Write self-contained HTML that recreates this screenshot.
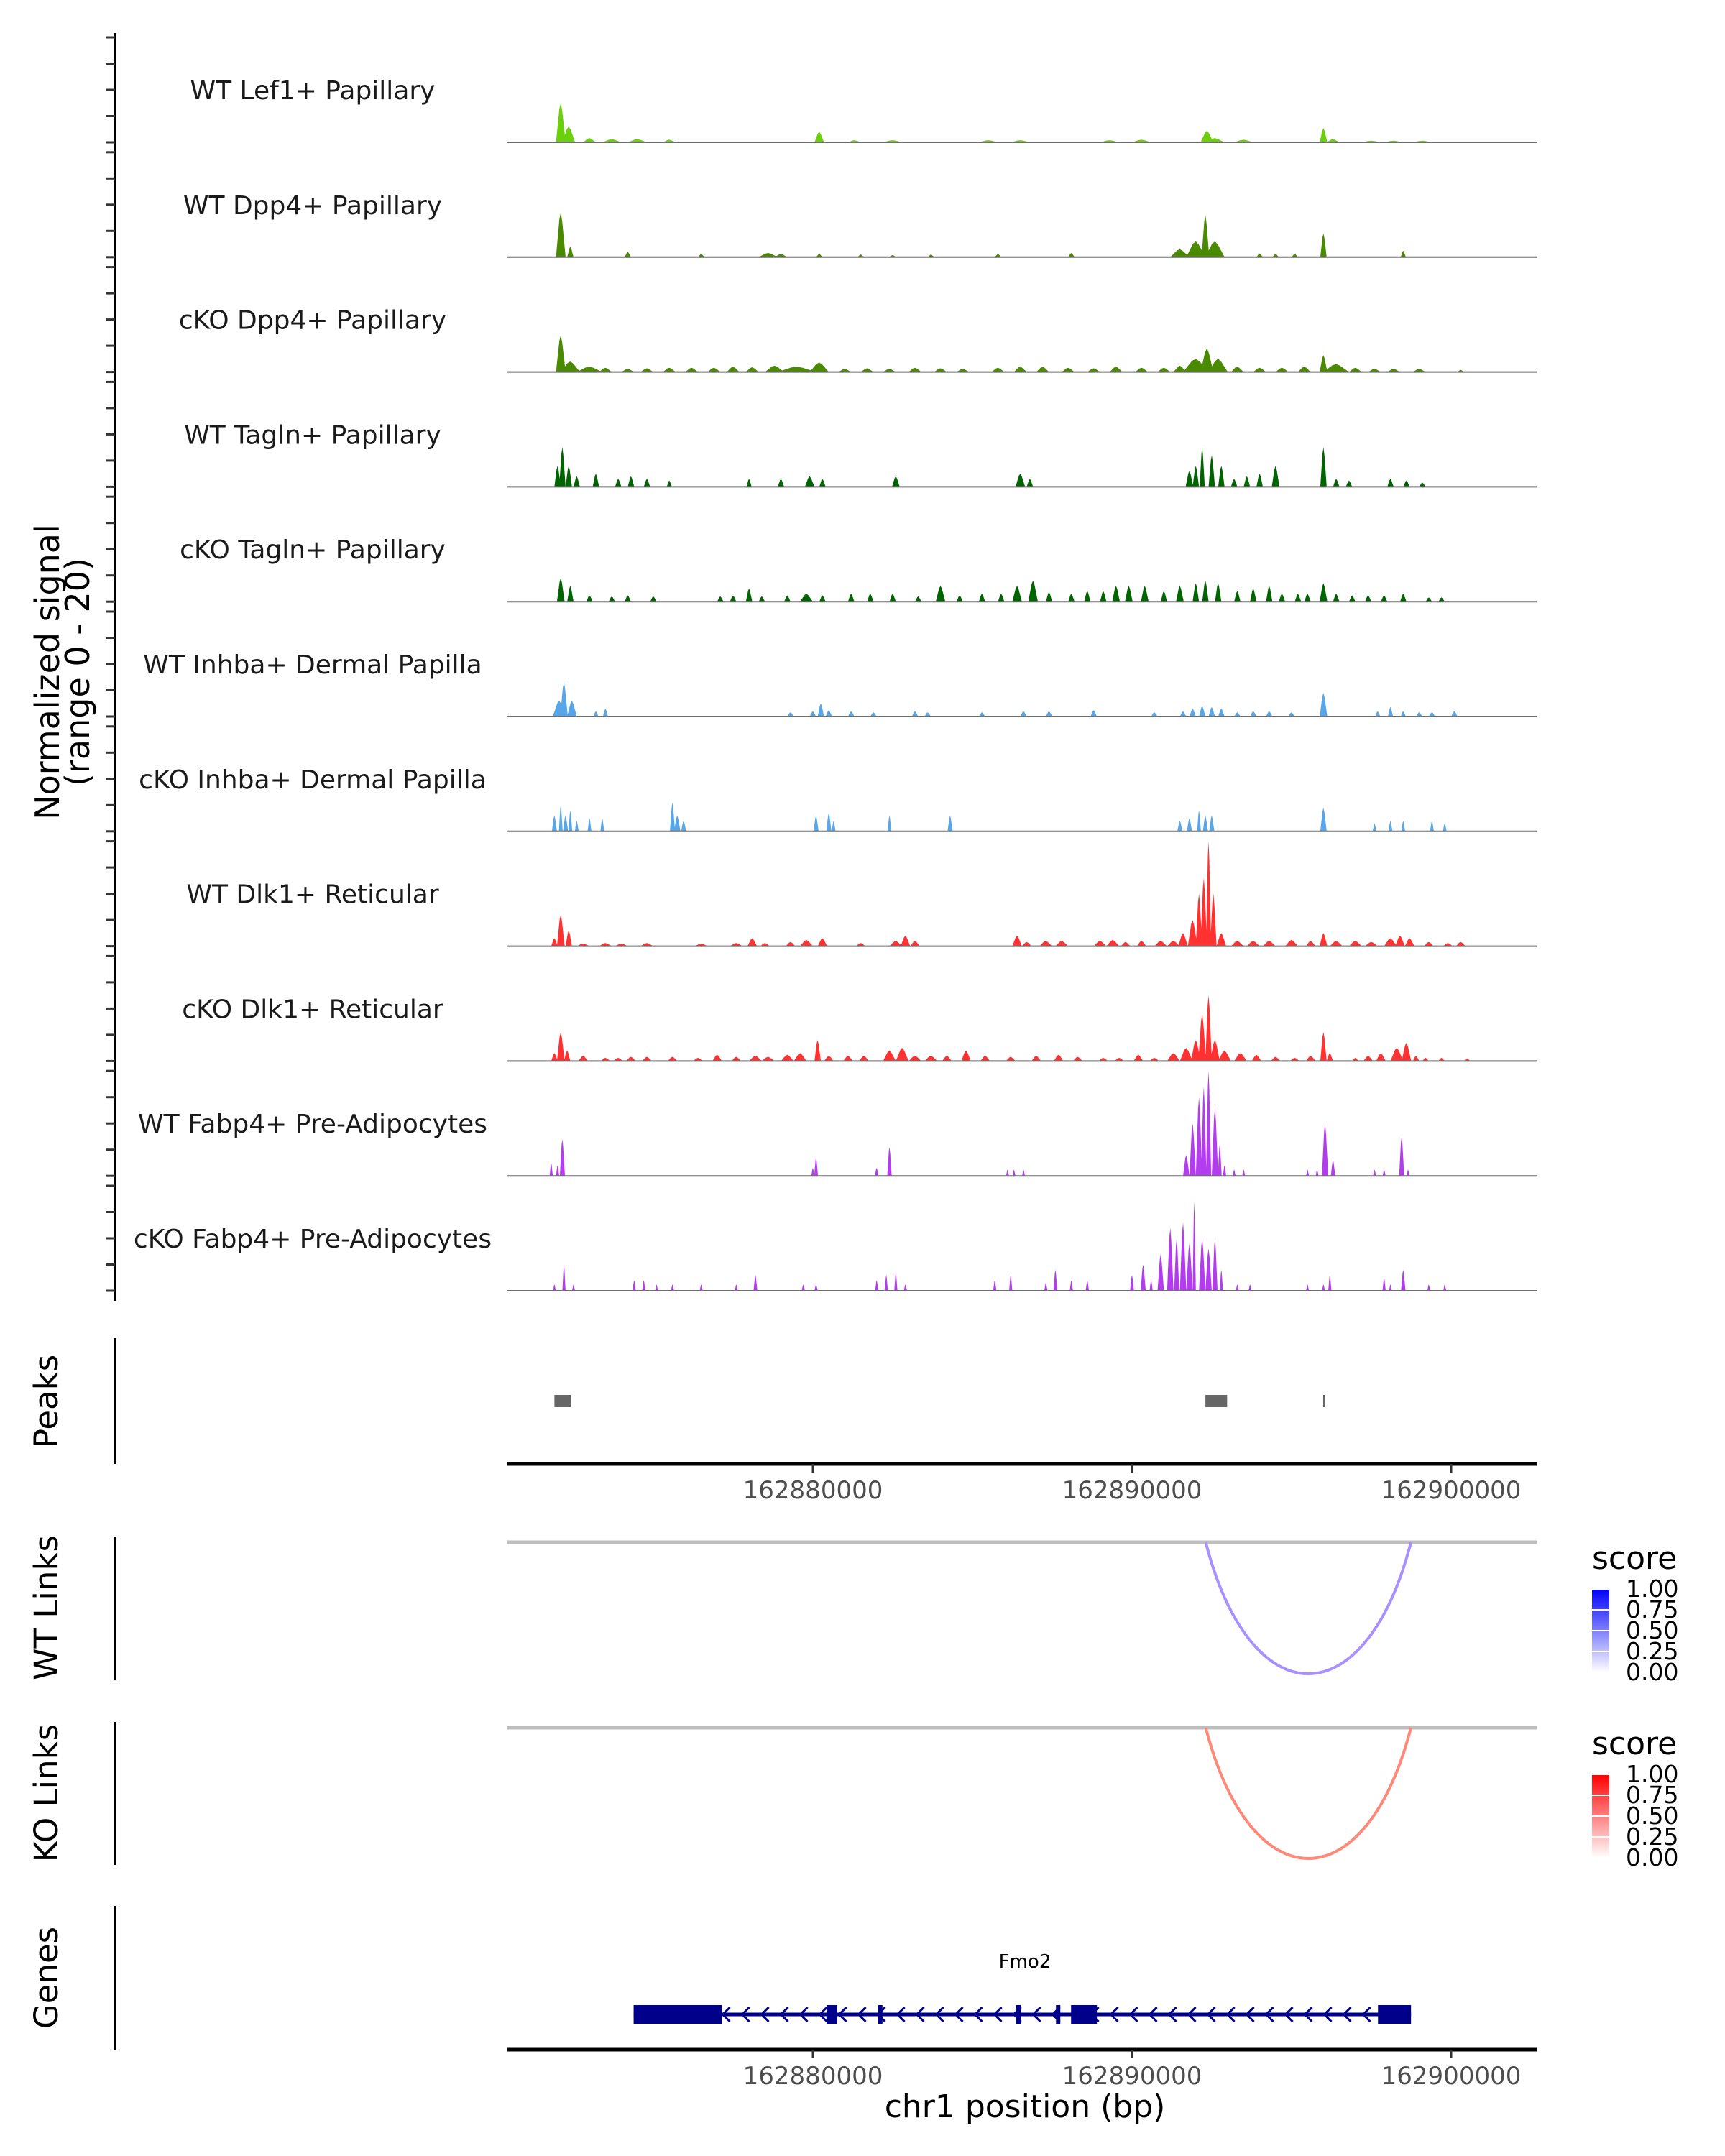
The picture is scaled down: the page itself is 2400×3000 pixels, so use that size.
<!DOCTYPE html>
<html><head><meta charset="utf-8"><style>
html,body{margin:0;padding:0;background:#fff;}
svg{display:block;font-family:"DejaVu Sans","Liberation Sans",sans-serif;}
</style></head><body>
<svg id="chart" width="2400" height="3000" viewBox="0 0 2400 3000" xmlns="http://www.w3.org/2000/svg">
<rect x="0" y="0" width="2400" height="3000" fill="#fff"/>
<defs>
<linearGradient id="gWT" x1="0" y1="1" x2="0" y2="0"><stop offset="0" stop-color="#ffffff"/><stop offset="1" stop-color="#0000ff"/></linearGradient>
<linearGradient id="gKO" x1="0" y1="1" x2="0" y2="0"><stop offset="0" stop-color="#ffffff"/><stop offset="1" stop-color="#ff0000"/></linearGradient>
</defs>
<g id="tracks"></g>
<g id="lower"></g>
</svg>
<script>
// ---------- data ----------
const trackNames = ["WT Lef1+ Papillary","WT Dpp4+ Papillary","cKO Dpp4+ Papillary","WT Tagln+ Papillary","cKO Tagln+ Papillary","WT Inhba+ Dermal Papilla","cKO Inhba+ Dermal Papilla","WT Dlk1+ Reticular","cKO Dlk1+ Reticular","WT Fabp4+ Pre-Adipocytes","cKO Fabp4+ Pre-Adipocytes"];
const trackColors = ["#6ccf0c","#4a8a00","#4a8a00","#006400","#006400","#58a6e8","#58a6e8","#ff3131","#ff3131","#b23cee","#b23cee"];
// peaks: [kb offset from 162870000, value (0-20), half width kb]
const sigLef1 = [[2.1,7.5,0.15],[2.35,3,0.2],[3.0,0.8,0.2],[3.7,0.6,0.3],[4.5,0.6,0.3],[5.5,0.5,0.2],[10.2,2,0.15],[11.3,0.4,0.2],[12.5,0.4,0.3],[15.5,0.4,0.3],[16.5,0.4,0.3],[19.3,0.4,0.3],[20.3,0.5,0.3],[22.35,2.2,0.2],[22.6,0.8,0.3],[23.5,0.5,0.3],[26.0,2.7,0.12],[26.3,0.6,0.2],[27.5,0.3,0.3],[28.2,0.3,0.3],[29.1,0.3,0.3]];
const sigDpp4WT = [[2.1,8.5,0.15],[2.4,2,0.1],[4.2,1,0.1],[6.5,0.6,0.1],[8.6,0.8,0.3],[9.0,0.6,0.2],[10.2,0.6,0.1],[11.5,0.5,0.1],[12.5,0.4,0.1],[13.7,0.5,0.1],[15.8,0.6,0.1],[18.1,0.8,0.1],[21.5,1.5,0.3],[22.0,3,0.3],[22.3,8,0.12],[22.6,3,0.3],[24.0,0.7,0.1],[24.5,0.6,0.1],[25.1,0.6,0.1],[26.0,4.5,0.1],[28.5,1.2,0.08]];
const sigDpp4KO = [[2.1,7,0.15],[2.4,2,0.3],[3,1,0.4],[3.5,0.8,0.2],[4.2,0.6,0.2],[4.8,0.7,0.2],[5.5,0.8,0.2],[6.2,0.8,0.2],[6.9,0.8,0.2],[7.5,1,0.2],[8.1,0.9,0.2],[8.8,1.2,0.3],[9.5,1.0,0.6],[10.2,1.8,0.3],[11.0,0.6,0.2],[11.7,0.7,0.2],[12.4,0.6,0.2],[13.2,0.8,0.2],[14.0,0.7,0.2],[14.7,0.6,0.2],[15.8,0.8,0.2],[16.5,1.0,0.2],[17.2,1.0,0.2],[18.0,0.8,0.2],[18.8,0.7,0.2],[19.5,1.0,0.2],[20.3,0.8,0.2],[21.0,0.8,0.2],[21.5,1.2,0.2],[22.0,2.5,0.4],[22.35,4.5,0.2],[22.7,2.5,0.3],[23.3,1.0,0.2],[24.0,0.8,0.2],[24.7,0.8,0.2],[25.4,1.0,0.2],[26.0,3.2,0.12],[26.4,1.5,0.4],[27.0,0.8,0.2],[27.6,0.6,0.2],[28.2,0.6,0.2],[29.0,0.6,0.2],[30.3,0.4,0.1]];
const sigTaglnWT = [[2.0,4,0.1],[2.15,7.5,0.1],[2.35,4,0.1],[2.6,2,0.1],[3.2,2.5,0.1],[3.9,1.5,0.1],[4.3,2,0.1],[4.8,1.5,0.1],[5.5,1.2,0.08],[8.0,1.5,0.08],[9.0,1.5,0.1],[9.9,2,0.15],[10.3,1.5,0.1],[12.6,2,0.12],[16.5,2.5,0.15],[16.8,1.5,0.1],[21.8,3,0.12],[22.0,4,0.1],[22.2,7.5,0.08],[22.5,6,0.1],[22.8,4,0.1],[23.2,1.5,0.1],[23.6,2,0.1],[24.0,2.5,0.1],[24.5,4,0.12],[26.0,7.5,0.1],[26.4,1.5,0.1],[26.8,1.2,0.1],[28.1,1.5,0.1],[28.6,1.2,0.1],[29.1,0.8,0.1]];
const sigTaglnKO = [[2.1,4.5,0.12],[2.4,3,0.1],[3.0,1.2,0.1],[3.7,1.0,0.1],[4.2,1.2,0.1],[5.0,1,0.1],[7.1,1,0.1],[7.5,1.2,0.1],[8.0,2.5,0.1],[8.4,1,0.1],[9.2,1.2,0.1],[9.8,1.5,0.2],[10.3,1.2,0.1],[11.2,1.5,0.1],[11.8,1.5,0.1],[12.5,1.5,0.1],[13.3,1,0.1],[14.0,3,0.15],[14.6,1.2,0.1],[15.3,1.5,0.1],[15.9,1.5,0.1],[16.4,3,0.15],[16.9,4,0.15],[17.4,1.8,0.1],[18.1,1.5,0.1],[18.6,2,0.1],[19.1,2,0.1],[19.5,3,0.12],[19.9,3,0.12],[20.4,3,0.12],[21.0,2,0.1],[21.5,3,0.12],[22.0,3.5,0.1],[22.3,4,0.1],[22.7,3.5,0.1],[23.3,2,0.1],[23.8,2.5,0.1],[24.3,3,0.1],[24.7,1.5,0.1],[25.2,1.5,0.1],[25.5,1.5,0.1],[26.0,3.5,0.12],[26.4,1.5,0.1],[26.9,1.2,0.1],[27.4,1.2,0.1],[27.9,1.2,0.1],[28.5,1.5,0.1],[29.3,0.8,0.1],[29.7,0.8,0.1]];
const sigInhbaWT = [[2.05,3,0.2],[2.2,6.5,0.12],[2.45,3,0.15],[3.2,1,0.08],[3.5,1.5,0.08],[9.3,0.8,0.1],[10.0,1,0.1],[10.25,2.5,0.1],[10.5,1.2,0.1],[11.2,1,0.1],[11.9,0.8,0.1],[13.2,1,0.1],[13.6,0.8,0.1],[15.3,0.8,0.1],[16.6,1,0.1],[17.4,1,0.1],[18.8,1.2,0.1],[20.7,0.8,0.1],[21.6,1,0.1],[21.9,1.5,0.1],[22.2,2,0.1],[22.5,1.8,0.1],[22.8,1.5,0.1],[23.3,0.8,0.1],[23.8,1,0.1],[24.3,1,0.1],[25.0,0.8,0.1],[26.0,4.5,0.12],[27.7,1,0.08],[28.1,1.8,0.08],[28.5,1,0.08],[29.0,0.8,0.1],[29.4,0.8,0.1],[30.1,1,0.1]];
const sigInhbaKO = [[1.9,3,0.08],[2.1,5,0.06],[2.25,3,0.08],[2.4,4,0.06],[2.6,2,0.06],[3.0,2.5,0.06],[3.4,2.5,0.06],[5.6,5.5,0.08],[5.75,3,0.1],[5.95,2,0.08],[10.1,3,0.08],[10.5,3.5,0.08],[10.65,2,0.06],[12.4,3,0.06],[14.3,3,0.08],[21.5,2,0.08],[21.8,2.5,0.08],[22.1,4,0.06],[22.3,3,0.08],[22.5,3,0.08],[26.0,4.5,0.1],[27.6,1.5,0.06],[28.1,2,0.06],[28.5,2,0.06],[29.4,2,0.06],[29.8,1.5,0.06]];
const sigDlk1WT = [[1.9,1.5,0.1],[2.1,6,0.12],[2.35,3,0.1],[2.8,0.5,0.2],[3.5,0.6,0.2],[4.0,0.5,0.2],[4.8,0.6,0.2],[6.5,0.5,0.2],[7.6,0.6,0.2],[8.1,1.5,0.15],[8.5,0.6,0.15],[9.3,0.8,0.15],[9.8,1.2,0.2],[10.3,1.5,0.15],[11.5,0.6,0.15],[12.6,1,0.2],[12.9,2,0.15],[13.2,1,0.15],[16.4,2,0.15],[16.7,0.8,0.15],[17.3,1,0.2],[17.8,1,0.2],[19.0,1,0.2],[19.4,1.2,0.2],[19.8,0.8,0.15],[20.3,1,0.15],[20.9,1,0.2],[21.3,1,0.2],[21.6,2.5,0.15],[21.9,5,0.15],[22.1,10,0.1],[22.25,13,0.1],[22.4,20,0.08],[22.55,10,0.1],[22.8,2.5,0.15],[23.3,1,0.2],[23.8,1,0.2],[24.3,1,0.2],[25.0,1.2,0.2],[25.6,1,0.15],[26.0,2.5,0.12],[26.4,1,0.2],[27.0,1,0.2],[27.5,0.8,0.2],[28.1,1.5,0.2],[28.4,2,0.15],[28.7,1.5,0.15],[29.3,0.8,0.15],[29.9,0.6,0.15],[30.3,0.8,0.15]];
const sigDlk1KO = [[1.9,1.5,0.1],[2.1,5.5,0.12],[2.3,2,0.1],[2.8,1,0.15],[3.5,0.6,0.15],[3.9,0.6,0.15],[4.3,0.8,0.15],[4.8,0.8,0.15],[5.6,0.8,0.15],[6.4,0.6,0.15],[7.0,1.2,0.15],[7.6,0.8,0.15],[8.2,1,0.2],[8.6,0.8,0.2],[9.2,1.2,0.2],[9.6,1.5,0.2],[10.15,4,0.1],[10.5,1,0.15],[11.1,1,0.15],[11.6,1,0.15],[12.4,2,0.2],[12.8,2.5,0.2],[13.2,1,0.2],[13.7,1,0.2],[14.2,1,0.15],[14.8,2,0.15],[15.4,1,0.15],[16.2,0.8,0.15],[17.0,1,0.15],[17.7,1.2,0.15],[18.3,0.8,0.15],[19.1,0.6,0.15],[19.6,0.6,0.15],[20.2,1.2,0.15],[20.7,0.6,0.15],[21.3,1.5,0.2],[21.7,2.5,0.2],[22.0,4,0.15],[22.2,9,0.12],[22.4,12.5,0.1],[22.6,4,0.15],[22.9,2,0.2],[23.4,1.5,0.2],[23.9,1.2,0.15],[24.5,0.8,0.15],[25.1,0.6,0.15],[25.6,1,0.15],[26.0,5.5,0.1],[26.2,1.5,0.1],[27.0,0.6,0.1],[27.4,1,0.15],[27.8,1.5,0.15],[28.3,2.5,0.2],[28.6,3.5,0.15],[28.9,1,0.1],[29.2,0.6,0.1],[29.7,0.6,0.1],[30.5,0.5,0.1]];
const sigFabp4WT = [[1.8,2.5,0.05],[2.0,2,0.05],[2.15,7,0.08],[10.0,1.5,0.05],[10.1,3.5,0.06],[12.0,1.5,0.06],[12.4,5.5,0.07],[16.1,1.2,0.04],[16.3,1.2,0.04],[16.6,1.2,0.04],[21.7,4,0.1],[21.9,10,0.1],[22.1,15,0.1],[22.25,17,0.08],[22.4,20,0.08],[22.6,13,0.1],[22.75,6,0.06],[22.9,2,0.05],[23.2,1.2,0.04],[23.5,1.2,0.04],[25.5,1.2,0.04],[25.8,1.2,0.04],[26.05,10,0.1],[26.3,3,0.07],[27.6,1.2,0.04],[27.9,1.2,0.04],[28.45,7.5,0.08],[28.65,1.2,0.04]];
const sigFabp4KO = [[1.9,1.2,0.04],[2.2,5,0.05],[2.5,1.2,0.04],[4.4,2,0.05],[4.7,2,0.05],[5.1,1.2,0.04],[5.6,1.2,0.04],[6.5,1.2,0.04],[7.6,1.2,0.04],[8.2,3,0.06],[9.7,1.2,0.05],[10.1,1.2,0.05],[12.0,2,0.05],[12.3,3,0.05],[12.6,3.5,0.05],[12.9,1.2,0.05],[15.7,2,0.05],[16.2,3,0.05],[17.3,1.5,0.05],[17.6,4,0.06],[18.1,2,0.05],[18.6,2,0.05],[20.0,3,0.06],[20.35,5,0.08],[20.6,2,0.05],[20.9,7,0.1],[21.2,12,0.1],[21.4,10,0.08],[21.6,13,0.1],[21.8,9,0.1],[21.95,17,0.05],[22.2,10,0.1],[22.4,8,0.1],[22.6,10,0.08],[22.8,4,0.05],[23.3,1.2,0.04],[23.7,1.2,0.04],[25.5,1.2,0.04],[26.0,1.2,0.04],[26.2,3,0.05],[27.9,2.5,0.05],[28.1,1.2,0.04],[28.5,4,0.07],[29.3,1.2,0.04],[29.8,1.2,0.04]];
const trackSignals = [sigLef1,sigDpp4WT,sigDpp4KO,sigTaglnWT,sigTaglnKO,sigInhbaWT,sigInhbaKO,sigDlk1WT,sigDlk1KO,sigFabp4WT,sigFabp4KO];
const yTicks = [0,5,10,15,20];
const xTicks = [162880000,162890000,162900000];
const peakStarts = [162871900,162892300,162895990];
const peakEnds = [162872420,162892980,162896010];
const wtLinkStart = [162892310], wtLinkEnd = [162898740], wtLinkScore = [0.6];
const koLinkStart = [162892310], koLinkEnd = [162898740], koLinkScore = [0.55];
const legendTicks = ["1.00","0.75","0.50","0.25","0.00"];
const exonStarts = [162874382,162880427,162882045,162886360,162887618,162888090,162897708];
const exonEnds = [162877146,162880764,162882180,162886517,162887753,162888899,162898742];
const geneStart = 162874382, geneEnd = 162898742;

// ---------- scales ----------
const NS="http://www.w3.org/2000/svg";
const X0=705, X1=2138;
const xs = bp => 1131 + (bp-162880000)/10000*444;
const kbX = kb => xs(162870000 + kb*1000);
const base0=198, pitch=159.8, unit=146/20;
const ys = (i,v) => base0 + i*pitch - v*unit;
function mk(tag, attrs, parent){const e=document.createElementNS(NS,tag);for(const k in attrs)e.setAttribute(k,attrs[k]);parent.appendChild(e);return e;}
const T=document.getElementById('tracks'), L=document.getElementById('lower');

let ax=mk('line',{x1:160,y1:46,x2:160,y2:1810,stroke:'#000','stroke-width':4},T);


let yt=mk('text',{x:0,y:0,'font-size':46,fill:'#000','text-anchor':'middle',transform:'translate(82,935) rotate(-90)'},T);
yt.textContent='Normalized signal';


let yt2=mk('text',{x:0,y:0,'font-size':46,fill:'#000','text-anchor':'middle',transform:'translate(124,935) rotate(-90)'},T);
yt2.textContent='(range 0 - 20)';



trackNames.forEach((name,i)=>{
  const g=mk('g',{},T);
  
  
  yTicks.forEach(v=>{
    const t=mk('line',{x1:148,x2:160,y1:ys(i,v),y2:ys(i,v),stroke:'#333','stroke-width':3},g);
    
    
  });
  const lb=mk('text',{x:435,y:base0+i*pitch-60,'font-size':36,fill:'#1a1a1a','text-anchor':'middle'},g);
  lb.textContent=name;
  
  
  let d='';
  trackSignals[i].forEach(p=>{
    const xc=kbX(p[0]), w=Math.max(p[2]*44.5,2), b=ys(i,0);
    d+=`M${xc-w},${b}L${xc-w*0.3},${ys(i,p[1]*0.85)}L${xc},${ys(i,p[1])}L${xc+w*0.3},${ys(i,p[1]*0.8)}L${xc+w},${b}Z`;
  });
  const ar=mk('path',{d:d,fill:trackColors[i],stroke:'none'},g);
  
  
  const bl=mk('line',{x1:X0,x2:X1,y1:ys(i,0),y2:ys(i,0),stroke:'#6e6e6e','stroke-width':2},g);
  
  
});

function panelAxis(y1,y2,label,cy,name){
  const l=mk('line',{x1:160,x2:160,y1:y1,y2:y2,stroke:'#000','stroke-width':4},L);
  
  
  const t=mk('text',{x:0,y:0,'font-size':45,fill:'#000','text-anchor':'middle',transform:`translate(80,${cy}) rotate(-90)`},L);
  t.textContent=label;
  
  
}
panelAxis(1862,2037,'Peaks',1950,'peaks');
panelAxis(2138,2337,'WT Links',2237,'wt-links');
panelAxis(2396,2595,'KO Links',2495,'ko-links');
panelAxis(2652,2852,'Genes',2752,'genes');

peakStarts.forEach((s,i)=>{
  const w=Math.max(xs(peakEnds[i])-xs(s),2);
  const r=mk('rect',{x:xs(s),y:1941,width:w,height:17,fill:'#666'},L);
  
  
});

function xAxis(y,name){
  const l=mk('line',{x1:X0,x2:X1,y1:y,y2:y,stroke:'#000','stroke-width':5},L);
  
  
  xTicks.forEach(t=>{
    const tk=mk('line',{x1:xs(t),x2:xs(t),y1:y,y2:y+12,stroke:'#333','stroke-width':3},L);
    
    
    const tl=mk('text',{x:xs(t),y:y+48,'font-size':34,fill:'#4d4d4d','text-anchor':'middle'},L);
    tl.textContent=String(t);
    
    
  });
}
xAxis(2037,'peaks-x-axis');
xAxis(2852,'genes-x-axis');
const xt=mk('text',{x:1426,y:2946,'font-size':44,fill:'#000','text-anchor':'middle'},L);
xt.textContent='chr1 position (bp)';



function links(y0,depth,starts,ends,scores,hi,grad,legY,name){
  const gl=mk('line',{x1:X0,x2:X1,y1:y0,y2:y0,stroke:'#bebebe','stroke-width':5},L);
  
  
  starts.forEach((s,i)=>{
    const a=xs(s), b=xs(ends[i]), w=b-a, c=depth*4/3;
    const s0=scores[i];
    const col=`rgb(${Math.round(255+(hi[0]-255)*s0)},${Math.round(255+(hi[1]-255)*s0)},${Math.round(255+(hi[2]-255)*s0)})`;
    const p=mk('path',{d:`M${a},${y0}C${a+w*0.22},${y0+c} ${b-w*0.22},${y0+c} ${b},${y0}`,fill:'none',stroke:col,'stroke-width':4},L);
    
    
  });
  const st=mk('text',{x:2215,y:legY,'font-size':44,fill:'#000'},L);
  st.textContent='score';
  
  
  const by=legY+28;
  const cb=mk('rect',{x:2215,y:by,width:24,height:116,fill:`url(#${grad})`},L);
  
  
  legendTicks.forEach((t,k)=>{
    const yy=by+k*29;
    const tk=mk('line',{x1:2215,x2:2239,y1:yy,y2:yy,stroke:'#fff','stroke-width':2},L);
    
    
    const tx=mk('text',{x:2262,y:yy+11,'font-size':33,fill:'#000'},L);
    tx.textContent=t;
    
    
  });
}
links(2146,183,wtLinkStart,wtLinkEnd,wtLinkScore,[110,70,255],'gWT',2183,'wt-links');
links(2404,182,koLinkStart,koLinkEnd,koLinkScore,[255,40,10],'gKO',2441,'ko-links');

const gy=2803;
const gn=mk('text',{x:1426,y:2738,'font-size':26,fill:'#000','text-anchor':'middle'},L);
gn.textContent='Fmo2';


const gl=mk('line',{x1:xs(geneStart),x2:xs(geneEnd),y1:gy,y2:gy,stroke:'#00008b','stroke-width':5},L);


for(let x=xs(geneStart)+20;x<xs(geneEnd)-10;x+=27){
  const c=mk('polyline',{points:`${x+6},${gy-10} ${x-4},${gy} ${x+6},${gy+10}`,fill:'none',stroke:'#00008b','stroke-width':3},L);
  
  
}
exonStarts.forEach((s,i)=>{
  const r=mk('rect',{x:xs(s),y:gy-13,width:Math.max(xs(exonEnds[i])-xs(s),5),height:26,fill:'#00008b'},L);
  
  
});
</script>
</body></html>
